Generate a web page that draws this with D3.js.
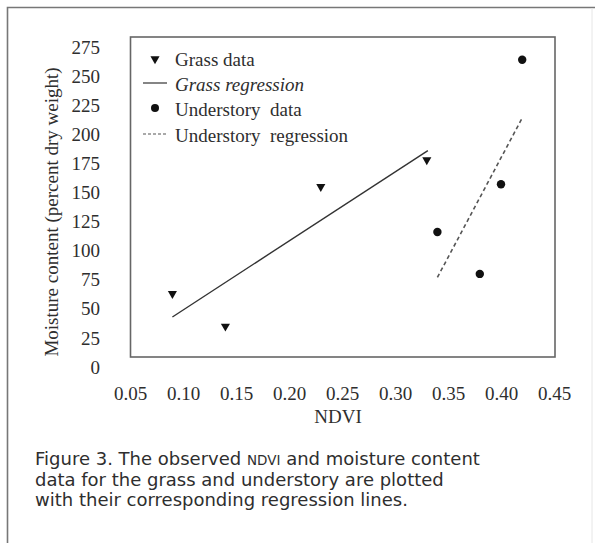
<!DOCTYPE html>
<html>
<head>
<meta charset="utf-8">
<script src="https://cdn.jsdelivr.net/npm/d3@7"></script>
<style>
  body { margin: 0; background: #fff; }
  svg text { fill: #2e2e2e; }
</style>
</head>
<body>
<div id="chart"></div>
<script>
// data
var grassNdvi = [0.09, 0.14, 0.23, 0.33];
var grassMoisture = [63, 35, 155, 178];
var understoryNdvi = [0.34, 0.38, 0.40, 0.42];
var understoryMoisture = [116, 80, 157, 264];
// regression end points (as drawn)
var grassRegNdvi = [0.09, 0.331];
var grassRegMoisture = [43, 186];
var underRegNdvi = [0.34, 0.42];
var underRegMoisture = [77, 214];
// tick labels
var xTicks = [0.05, 0.10, 0.15, 0.20, 0.25, 0.30, 0.35, 0.40, 0.45];
var yTicks = [0, 25, 50, 75, 100, 125, 150, 175, 200, 225, 250, 275];
var legendLabels = ["Grass data", "Grass regression", "Understory  data", "Understory  regression"];
var captionLines = [
  ["Figure 3. The observed ", "NDVI", " and moisture content"],
  ["data for the grass and understory are plotted"],
  ["with their corresponding regression lines."]
];

// ****************************************************
var svgWidth = 595;
var svgHeight = 543;
var serif = "'Liberation Serif', 'Times New Roman', serif";
var sans = "'DejaVu Sans', Verdana, sans-serif";
var serifSize = "19px";

var svg = d3.select("#chart")
    .append("svg")
    .attr("width", svgWidth)
    .attr("height", svgHeight);

// outer frame
svg.append("path")
    .attr("d", "M7.5,543 V7.5 H595")
    .attr("fill", "none")
    .attr("stroke", "#777")
    .attr("stroke-width", 1.6);
svg.append("line")
    .attr("x1", 592).attr("x2", 592).attr("y1", 8).attr("y2", 543)
    .attr("stroke", "#e6e6e6").attr("stroke-width", 1);

// scales
var xScale = d3.scaleLinear().domain([0.05, 0.45]).range([130, 554]);
var yScale = d3.scaleLinear().domain([0, 275]).range([367, 47]);

// plot box (labels in the figure sit ~10px below the box)
var boxTop = yScale(275) - 10;
var boxBottom = yScale(0) - 10;
svg.append("rect")
    .attr("x", 130.5)
    .attr("y", boxTop)
    .attr("width", 555 - 130.5)
    .attr("height", boxBottom - boxTop)
    .attr("fill", "none")
    .attr("stroke", "#666")
    .attr("stroke-width", 1.6);

// ****************************************************
// axes
var xAxis = d3.axisBottom(xScale).tickValues(xTicks).tickSize(0).tickFormat(d3.format(".2f"));
var xg = svg.append("g")
    .attr("transform", `translate(0, ${boxBottom})`)
    .call(xAxis);
xg.select(".domain").remove();
xg.selectAll("text")
    .attr("y", 43).attr("dy", null)
    .style("font-family", serif).style("font-size", serifSize);

var yAxis = d3.axisLeft(yScale).tickValues(yTicks).tickSize(0).tickPadding(30);
var yg = svg.append("g")
    .attr("transform", "translate(130, 0)")
    .call(yAxis);
yg.select(".domain").remove();
yg.selectAll("text")
    .style("font-family", serif).style("font-size", serifSize);

// axis titles
svg.append("text")
    .attr("x", 338).attr("y", 423)
    .attr("text-anchor", "middle")
    .style("font-family", serif).style("font-size", serifSize)
    .text("NDVI");

svg.append("text")
    .attr("transform", "translate(58, 212) rotate(-90)")
    .attr("text-anchor", "middle")
    .style("font-family", serif).style("font-size", serifSize)
    .text("Moisture content (percent dry weight)");

// ****************************************************
// regression lines
var line = d3.line()
    .x(function(d) { return xScale(d[0]); })
    .y(function(d) { return yScale(d[1]); });

svg.append("path")
    .datum(d3.zip(grassRegNdvi, grassRegMoisture))
    .attr("d", line)
    .attr("fill", "none")
    .attr("stroke", "#333")
    .attr("stroke-width", 1.4);

svg.append("path")
    .datum(d3.zip(underRegNdvi, underRegMoisture))
    .attr("d", line)
    .attr("fill", "none")
    .attr("stroke", "#555")
    .attr("stroke-width", 1.6)
    .attr("stroke-dasharray", "4,3");

// points
var tri = d3.symbol().type(d3.symbolTriangle).size(36);
svg.selectAll(".grassPt")
    .data(d3.zip(grassNdvi, grassMoisture))
    .enter().append("path")
    .attr("class", "grassPt")
    .attr("d", tri)
    .attr("transform", function(d) {
        return `translate(${xScale(d[0])}, ${yScale(d[1])}) rotate(180)`;
    })
    .attr("fill", "#111");

svg.selectAll(".underPt")
    .data(d3.zip(understoryNdvi, understoryMoisture))
    .enter().append("circle")
    .attr("class", "underPt")
    .attr("cx", function(d) { return xScale(d[0]); })
    .attr("cy", function(d) { return yScale(d[1]); })
    .attr("r", 4.2)
    .attr("fill", "#111");

// ****************************************************
// legend
var legend = svg.append("g").attr("transform", "translate(155, 0)");
var legendY = [62, 87, 112, 138];

legend.append("path")
    .attr("d", tri)
    .attr("transform", `translate(0, ${legendY[0] - 3}) rotate(180)`)
    .attr("fill", "#111");
legend.append("line")
    .attr("x1", -12).attr("x2", 12)
    .attr("y1", legendY[1] - 4).attr("y2", legendY[1] - 4)
    .attr("stroke", "#333").attr("stroke-width", 1.2);
legend.append("circle")
    .attr("cx", 0).attr("cy", legendY[2] - 4).attr("r", 4)
    .attr("fill", "#111");
legend.append("line")
    .attr("x1", -12).attr("x2", 12)
    .attr("y1", legendY[3] - 4).attr("y2", legendY[3] - 4)
    .attr("stroke", "#555").attr("stroke-width", 1.2)
    .attr("stroke-dasharray", "3,2");

legend.selectAll(".legText")
    .data(legendLabels)
    .enter().append("text")
    .attr("class", "legText")
    .attr("x", 20)
    .attr("y", function(d, i) { return legendY[i] + 4; })
    .attr("xml:space", "preserve")
    .style("white-space", "pre")
    .style("font-family", serif).style("font-size", serifSize)
    .style("font-style", function(d, i) { return i === 1 ? "italic" : "normal"; })
    .text(function(d) { return d; });

// ****************************************************
// caption
var caption = svg.append("g");
captionLines.forEach(function(parts, i) {
    var t = caption.append("text")
        .attr("x", 35)
        .attr("y", 465 + i * 20.5)
        .style("font-family", sans).style("font-size", "18px")
        .attr("xml:space", "preserve")
        .style("white-space", "pre");
    parts.forEach(function(p) {
        t.append("tspan")
            .style("font-size", p === "NDVI" ? "13.5px" : null)
            .text(p);
    });
});
</script>
</body>
</html>
